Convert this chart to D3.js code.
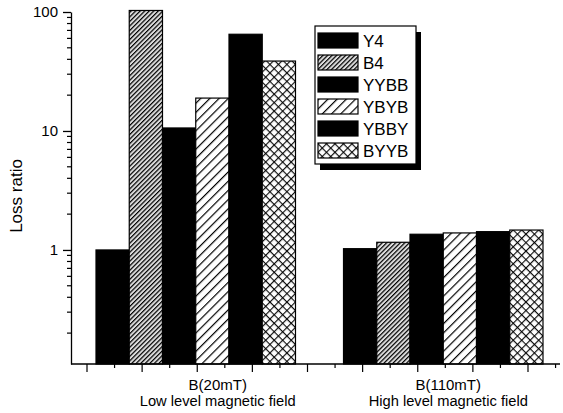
<!DOCTYPE html>
<html>
  <head>
    <script src="https://cdn.jsdelivr.net/npm/d3@7"></script>
    <style>
      body { margin: 0; background: #fff; }
      text { font-family: "Liberation Sans", Arial, sans-serif; fill: #000; }
    </style>
  </head>
  <body>
    <div id="chart"></div>

    <script>
      // ========= Data ========= //
      const groups = ['B(20mT)', 'B(110mT)'];
      const groupNotes = ['Low level magnetic field', 'High level magnetic field'];
      const series = ['Y4', 'B4', 'YYBB', 'YBYB', 'YBBY', 'BYYB'];
      const lowField = [1.0, 103, 10.6, 18.9, 65, 38.7];
      const highField = [1.025, 1.16, 1.355, 1.39, 1.425, 1.47];
      const yTickValues = [1, 10, 100];

      const seriesFill = ['#000', 'url(#p-dense)', '#000', 'url(#p-sparse)', '#000', 'url(#p-cross)'];
      const values = [lowField, highField];

      // ========= Setup dimensions ========= //
      const width = 563;
      const height = 413;
      const axisX = 71;
      const axisY = 364;
      const labelShift = [22, 5];

      const svg = d3.select('#chart').append('svg')
        .attr('width', width)
        .attr('height', height);

      // ========= Patterns ========= //
      const defs = svg.append('defs');

      const dense = defs.append('pattern')
        .attr('id', 'p-dense')
        .attr('patternUnits', 'userSpaceOnUse')
        .attr('width', 3.2).attr('height', 3.2)
        .attr('patternTransform', 'rotate(45)');
      dense.append('rect').attr('width', 3.2).attr('height', 3.2).attr('fill', '#dcdcdc');
      dense.append('line').attr('x1', 0.6).attr('x2', 0.6).attr('y1', 0).attr('y2', 3.2)
        .attr('stroke', '#000').attr('stroke-width', 1.2);

      const sparse = defs.append('pattern')
        .attr('id', 'p-sparse')
        .attr('patternUnits', 'userSpaceOnUse')
        .attr('width', 6.5).attr('height', 6.5)
        .attr('patternTransform', 'rotate(45)');
      sparse.append('rect').attr('width', 6.5).attr('height', 6.5).attr('fill', '#fff');
      sparse.append('line').attr('x1', 0.6).attr('x2', 0.6).attr('y1', 0).attr('y2', 6.5)
        .attr('stroke', '#000').attr('stroke-width', 1.2);

      const cross = defs.append('pattern')
        .attr('id', 'p-cross')
        .attr('patternUnits', 'userSpaceOnUse')
        .attr('width', 6).attr('height', 6)
        .attr('patternTransform', 'rotate(45)');
      cross.append('rect').attr('width', 6).attr('height', 6).attr('fill', '#fff');
      cross.append('line').attr('x1', 0.6).attr('x2', 0.6).attr('y1', 0).attr('y2', 6)
        .attr('stroke', '#000').attr('stroke-width', 1.1);
      cross.append('line').attr('x1', 0).attr('x2', 6).attr('y1', 0.6).attr('y2', 0.6)
        .attr('stroke', '#000').attr('stroke-width', 1.1);

      // ========= Scales ========= //
      const y = d3.scaleLog().domain([0.11, 100]).range([axisY, 12]);

      const x0 = d3.scaleBand().domain(groups).range([96, 543]).paddingInner(0.194);
      const x1 = d3.scaleBand().domain(series).range([0, x0.bandwidth()]);

      // x axis ticks sit on their own regular grid
      const xt = d3.scaleLinear().domain([0, 8]).range([87, 528]);

      // ========= Bars ========= //
      groups.forEach((g, gi) => {
        svg.append('g')
          .attr('transform', `translate(${x0(g)},0)`)
          .selectAll('rect')
          .data(series)
          .join('rect')
            .attr('x', d => x1(d))
            .attr('y', (d, i) => y(values[gi][i]))
            .attr('width', x1.bandwidth())
            .attr('height', (d, i) => axisY - y(values[gi][i]))
            .attr('fill', (d, i) => seriesFill[i])
            .attr('stroke', '#000')
            .attr('stroke-width', 1.2);
      });

      // ========= Y axis ========= //
      const yAxis = svg.append('g')
        .attr('transform', `translate(${axisX},0)`)
        .call(d3.axisLeft(y).tickValues(yTickValues).tickFormat(d3.format('d'))
          .tickSize(8).tickSizeOuter(0).tickPadding(5));
      yAxis.select('.domain').attr('stroke-width', 1.3);
      yAxis.selectAll('.tick line').attr('stroke-width', 1.3);
      yAxis.selectAll('.tick text')
        .attr('font-size', 15)
        .attr('font-family', '"Liberation Sans", Arial, sans-serif');

      const minor = [];
      [0.1, 1, 10].forEach(base => {
        for (let k = 2; k <= 9; k++) {
          if (base * k >= y.domain()[0]) minor.push(base * k);
        }
      });
      svg.append('g').selectAll('line')
        .data(minor)
        .join('line')
          .attr('x1', axisX - 4).attr('x2', axisX)
          .attr('y1', d => y(d)).attr('y2', d => y(d))
          .attr('stroke', '#000').attr('stroke-width', 1.2);

      svg.append('text')
        .attr('transform', `translate(22,196) rotate(-90)`)
        .attr('text-anchor', 'middle')
        .attr('font-size', 17)
        .text('Loss ratio');

      // ========= X axis ========= //
      svg.append('line')
        .attr('x1', axisX).attr('x2', 560)
        .attr('y1', axisY).attr('y2', axisY)
        .attr('stroke', '#000').attr('stroke-width', 1.3);

      svg.append('g').selectAll('line')
        .data(d3.range(0, 8.51, 0.5))
        .join('line')
          .attr('x1', d => xt(d)).attr('x2', d => xt(d))
          .attr('y1', axisY).attr('y2', d => axisY + (Number.isInteger(d) ? 8 : 4))
          .attr('stroke', '#000').attr('stroke-width', 1.2);

      groups.forEach((g, gi) => {
        const cx = x0(g) + x0.bandwidth() / 2 + labelShift[gi];
        svg.append('text')
          .attr('x', cx).attr('y', 390)
          .attr('text-anchor', 'middle')
          .attr('font-size', 15)
          .text(g);
        svg.append('text')
          .attr('x', cx).attr('y', 406)
          .attr('text-anchor', 'middle')
          .attr('font-size', 14.7)
          .text(groupNotes[gi]);
      });

      // ========= Legend ========= //
      const legend = svg.append('g').attr('transform', 'translate(315,26)');
      legend.append('rect')
        .attr('x', 5).attr('y', 6)
        .attr('width', 101).attr('height', 138)
        .attr('fill', '#000');
      legend.append('rect')
        .attr('width', 101).attr('height', 138)
        .attr('fill', '#fff')
        .attr('stroke', '#000').attr('stroke-width', 1.2);

      const rows = legend.selectAll('g.row')
        .data(series)
        .join('g')
          .attr('class', 'row')
          .attr('transform', (d, i) => `translate(3,${7 + i * 22})`);
      rows.append('rect')
        .attr('width', 40).attr('height', 15)
        .attr('fill', (d, i) => seriesFill[i])
        .attr('stroke', '#000').attr('stroke-width', 1.2);
      rows.append('text')
        .attr('x', 45).attr('y', 14)
        .attr('font-size', 17)
        .text(d => d);
    </script>
  </body>
</html>
